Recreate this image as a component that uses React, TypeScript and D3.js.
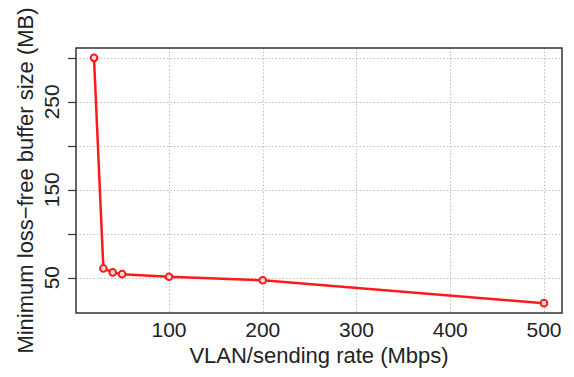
import { useEffect, useRef } from 'react';
import * as d3 from 'd3';

const rates = [20, 30, 40, 50, 100, 200, 500];
const bufferSizes = [300, 60.5, 56, 54, 51, 47, 21];
const xTicks = [100, 200, 300, 400, 500];
const yTicks = [50, 100, 150, 200, 250, 300];
const yLabelled = [50, 150, 250];

const W = 574;
const H = 377;

export default function App() {
  const svgRef = useRef<SVGSVGElement>(null);

  useEffect(() => {
    if (!svgRef.current) return;
    const svg = d3.select(svgRef.current);
    svg.selectAll('*').remove();

    const plot = { left: 76, right: 562, top: 48, bottom: 313 };
    const font = '"Liberation Sans", Arial, sans-serif';

    const x = d3.scaleLinear().domain([0.8, 519.2]).range([plot.left, plot.right]);
    const y = d3.scaleLinear().domain([9.8, 311.2]).range([plot.bottom, plot.top]);
    const crisp = (v: number) => Math.round(v) + 0.5;

    // grid
    const grid = svg.append('g').attr('stroke', '#bdbdbd').attr('stroke-width', 1).attr('stroke-dasharray', '1.5,2');
    grid.selectAll('line.v').data(xTicks).join('line')
      .attr('class', 'v')
      .attr('x1', (d) => crisp(x(d))).attr('x2', (d) => crisp(x(d)))
      .attr('y1', plot.top).attr('y2', plot.bottom);
    grid.selectAll('line.h').data(yTicks).join('line')
      .attr('class', 'h')
      .attr('x1', plot.left).attr('x2', plot.right)
      .attr('y1', (d) => crisp(y(d))).attr('y2', (d) => crisp(y(d)));

    // y ticks
    svg.append('g').attr('stroke', '#333').attr('stroke-width', 1.2)
      .selectAll('line').data(yTicks).join('line')
      .attr('x1', plot.left - 8).attr('x2', plot.left)
      .attr('y1', (d) => crisp(y(d))).attr('y2', (d) => crisp(y(d)));

    svg.append('g').selectAll('text').data(yLabelled).join('text')
      .attr('transform', (d) => `translate(${plot.left - 17},${y(d)}) rotate(-90)`)
      .attr('text-anchor', 'middle')
      .attr('font-family', font).attr('font-size', 21).attr('fill', '#222')
      .text((d) => d);

    svg.append('g').selectAll('text').data(xTicks).join('text')
      .attr('x', (d) => x(d)).attr('y', 337)
      .attr('text-anchor', 'middle')
      .attr('font-family', font).attr('font-size', 21).attr('fill', '#222')
      .text((d) => d);

    // line + points
    const pts = rates.map((r, i) => ({ r, v: bufferSizes[i] }));
    const line = d3.line<{ r: number; v: number }>().x((d) => x(d.r)).y((d) => y(d.v));
    svg.append('path').datum(pts)
      .attr('fill', 'none').attr('stroke', '#ff1a1a').attr('stroke-width', 2.5)
      .attr('d', line);
    svg.append('g').selectAll('circle').data(pts).join('circle')
      .attr('cx', (d) => x(d.r)).attr('cy', (d) => y(d.v)).attr('r', 3.3)
      .attr('fill', '#ffdede').attr('stroke', '#ff1a1a').attr('stroke-width', 2);

    // box
    svg.append('rect')
      .attr('x', plot.left).attr('y', plot.top)
      .attr('width', plot.right - plot.left).attr('height', plot.bottom - plot.top)
      .attr('fill', 'none').attr('stroke', '#333').attr('stroke-width', 1.5);

    // titles
    svg.append('text')
      .attr('x', (plot.left + plot.right) / 2).attr('y', 363)
      .attr('text-anchor', 'middle')
      .attr('font-family', font).attr('font-size', 22).attr('fill', '#222')
      .text('VLAN/sending rate (Mbps)');
    svg.append('text')
      .attr('transform', `translate(33,${(plot.top + plot.bottom) / 2}) rotate(-90)`)
      .attr('text-anchor', 'middle')
      .attr('font-family', font).attr('font-size', 22).attr('fill', '#222')
      .text('Minimum loss\u2212free buffer size (MB)');
  }, []);

  return (
    <svg ref={svgRef} width={W} height={H}
      style={{ position: 'absolute', left: 0, top: 0, background: '#fff' }} />
  );
}
